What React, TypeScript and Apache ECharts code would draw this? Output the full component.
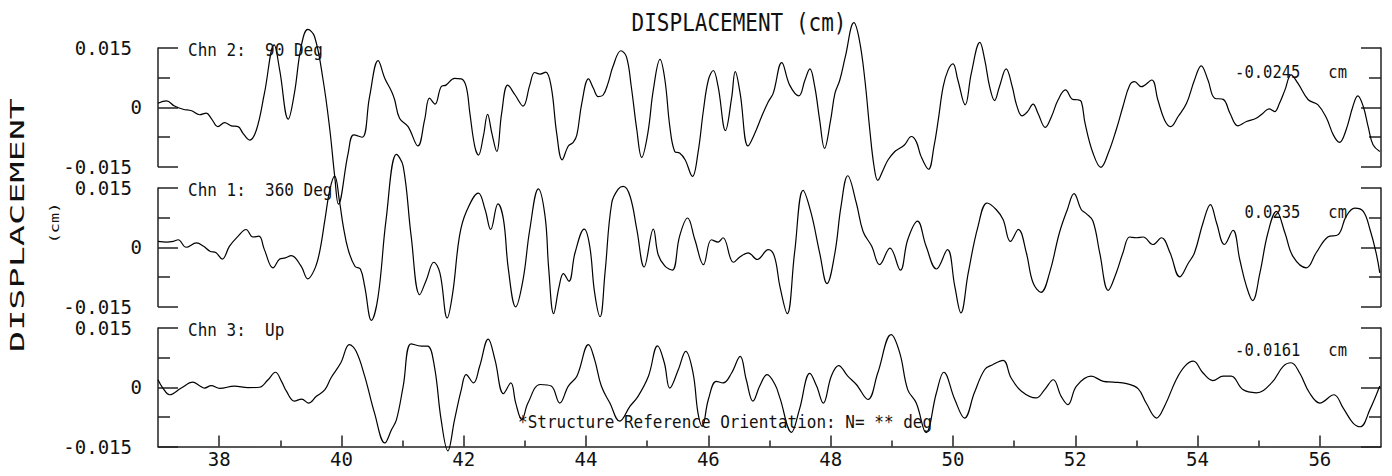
import React, { useEffect, useRef } from "react";
import * as echarts from "echarts";

const FONT = "'DejaVu Sans Mono', 'Liberation Mono', monospace";

// Chn 2: 90 Deg (top panel)
const chn2Time = [
  37.0, 37.14, 37.27, 37.41, 37.55, 37.68, 37.79, 37.87, 37.98, 38.09, 38.2, 38.31, 38.39, 38.5, 38.61,
  38.74, 38.9, 38.99, 39.13, 39.23, 39.34, 39.45, 39.56, 39.7, 39.81, 39.89, 39.95, 40.11, 40.2, 40.34,
  40.46, 40.6, 40.71, 40.82, 40.87, 40.95, 41.09, 41.25, 41.36, 41.44, 41.53, 41.63, 41.71, 41.85, 41.96,
  42.04, 42.1, 42.18, 42.24, 42.32, 42.39, 42.46, 42.54, 42.62, 42.72, 42.84, 42.97, 43.08, 43.16, 43.25,
  43.34, 43.43, 43.52, 43.61, 43.71, 43.79, 43.85, 43.93, 44.04, 44.12, 44.2, 44.28, 44.36, 44.44, 44.57,
  44.66, 44.74, 44.83, 44.91, 45.01, 45.1, 45.21, 45.29, 45.37, 45.45, 45.53, 45.62, 45.74, 45.83, 45.92,
  46.0, 46.08, 46.16, 46.28, 46.38, 46.44, 46.52, 46.65, 46.76, 46.87, 46.98, 47.06, 47.2, 47.33, 47.48,
  47.58, 47.66, 47.74, 47.82, 47.9, 48.0, 48.07, 48.15, 48.24, 48.38, 48.47, 48.56, 48.64, 48.71, 48.77,
  48.86, 48.94, 49.05, 49.13, 49.21, 49.32, 49.4, 49.48, 49.6, 49.69, 49.76, 49.84, 49.92, 50.0, 50.08,
  50.2, 50.3, 50.44, 50.52, 50.6, 50.68, 50.76, 50.87, 50.97, 51.04, 51.13, 51.22, 51.31, 51.39, 51.51,
  51.61, 51.72, 51.84, 51.96, 52.04, 52.1, 52.16, 52.29, 52.42, 52.54, 52.67, 52.78, 52.89, 52.97, 53.08,
  53.25, 53.35, 53.46, 53.56, 53.68, 53.82, 53.95, 54.06, 54.17, 54.28, 54.42, 54.53, 54.66, 54.8, 54.96,
  55.07, 55.17, 55.26, 55.34, 55.43, 55.53, 55.64, 55.81, 55.97, 56.11, 56.22, 56.32, 56.43, 56.54, 56.62,
  56.71, 56.79, 56.87, 56.98,
];
const chn2Disp = [
  0.001, 0.0016, 0.0003, -0.0005, -0.0009, -0.0019, -0.0015, -0.0028, -0.0049, -0.0039, -0.0047, -0.0049, -0.0066, -0.0083, -0.0057,
  0.0035, 0.0158, 0.0094, -0.003, 0.0035, 0.0153, 0.0197, 0.0179, 0.0069, -0.0057, -0.0175, -0.0245, -0.0116, -0.007, -0.0076,
  0.0027, 0.0118, 0.0073, 0.004, 0.0019, -0.0028, -0.0049, -0.0098, -0.0032, 0.0023, 0.0008, 0.0052, 0.0056, 0.0073, 0.0072,
  0.0052, -0.0015, -0.0099, -0.0121, -0.0074, -0.0018, -0.0066, -0.0112, -0.0015, 0.0056, 0.0031, 0.0003, 0.0056, 0.0088, 0.0084,
  0.0089, 0.0052, -0.0066, -0.0133, -0.0098, -0.0089, -0.007, 0.001, 0.0072, 0.0048, 0.0027, 0.0031, 0.0061, 0.0103, 0.0143,
  0.0128, 0.0052, -0.0057, -0.0127, -0.0066, 0.0044, 0.0121, 0.0069, -0.0049, -0.0112, -0.0116, -0.0133, -0.0175, -0.0116, -0.0007,
  0.0069, 0.0093, 0.0052, -0.0059, 0.0023, 0.009, 0.0035, -0.0098, -0.0066, -0.0024, 0.0014, 0.0035, 0.0113, 0.0056, 0.0029,
  0.0069, 0.0097, 0.0052, -0.0032, -0.0104, -0.0032, 0.0035, 0.0069, 0.0128, 0.0214, 0.017, 0.0069, -0.0057, -0.015, -0.0185,
  -0.0158, -0.0133, -0.0112, -0.0104, -0.0095, -0.0074, -0.0087, -0.0125, -0.0157, -0.0099, -0.0032, 0.0052, 0.0094, 0.011, 0.0069,
  0.0006, 0.0086, 0.0164, 0.012, 0.0052, 0.0017, 0.0052, 0.0097, 0.0052, 0.0006, -0.0022, -0.0011, 0.0008, -0.0015, -0.0051,
  -0.0024, 0.0019, 0.0044, 0.002, 0.0019, 0.0014, -0.004, -0.0116, -0.0152, -0.0116, -0.0057, 0.0002, 0.0056, 0.0065, 0.0052,
  0.0069, 0.0019, -0.0032, -0.0049, -0.0024, 0.001, 0.0069, 0.0105, 0.0069, 0.0023, 0.002, -0.0015, -0.0047, -0.0036, -0.0028,
  -0.0015, -0.0004, -0.0011, 0.001, 0.0044, 0.0082, 0.0061, 0.0019, 0.0006, -0.0028, -0.007, -0.0089, -0.0057, 0.0002, 0.0029,
  0.0002, -0.0049, -0.0095, -0.0112,
];

// Chn 1: 360 Deg (middle panel)
const chn1Time = [
  37.0, 37.14, 37.25, 37.33, 37.46, 37.63, 37.74, 37.85, 37.95, 38.05, 38.17, 38.31, 38.44, 38.55, 38.65,
  38.74, 38.88, 38.99, 39.08, 39.18, 39.34, 39.45, 39.56, 39.64, 39.73, 39.81, 39.89, 39.97, 40.03, 40.11,
  40.22, 40.31, 40.38, 40.49, 40.6, 40.73, 40.9, 41.01, 41.14, 41.28, 41.39, 41.51, 41.61, 41.73, 41.82,
  41.93, 42.04, 42.24, 42.35, 42.44, 42.56, 42.65, 42.73, 42.85, 42.97, 43.08, 43.22, 43.33, 43.39, 43.47,
  43.56, 43.63, 43.72, 43.82, 43.97, 44.06, 44.14, 44.23, 44.31, 44.42, 44.53, 44.61, 44.72, 44.83, 44.95,
  45.1, 45.18, 45.29, 45.41, 45.53, 45.66, 45.78, 45.92, 46.05, 46.16, 46.24, 46.41, 46.52, 46.65, 46.8,
  46.98, 47.08, 47.17, 47.29, 47.41, 47.55, 47.68, 47.82, 47.94, 48.07, 48.17, 48.28, 48.42, 48.53, 48.67,
  48.8, 48.97, 49.14, 49.26, 49.42, 49.56, 49.73, 49.91, 50.03, 50.13, 50.25, 50.41, 50.56, 50.71, 50.82,
  50.94, 51.07, 51.2, 51.31, 51.44, 51.58, 51.74, 51.87, 51.98, 52.1, 52.18, 52.29, 52.4, 52.54, 52.67,
  52.78, 52.89, 53.0, 53.11, 53.27, 53.41, 53.55, 53.71, 53.85, 53.95, 54.09, 54.21, 54.31, 54.44, 54.58,
  54.69, 54.8, 54.9, 55.02, 55.15, 55.29, 55.43, 55.56, 55.78, 55.94, 56.13, 56.3, 56.43, 56.57, 56.71,
  56.82, 56.92, 56.98,
];
const chn1Disp = [
  0.0015, 0.0013, 0.0015, 0.0019, 0.0, 0.0011, 0.0003, -0.001, -0.0014, -0.003, 0.0003, 0.0028, 0.0045, 0.0026, 0.0028,
  -0.0006, -0.0052, -0.003, -0.0027, -0.0021, -0.0048, -0.008, -0.0056, -0.0014, 0.007, 0.0146, 0.018, 0.0114, 0.0053, -0.0006,
  -0.0048, -0.0055, -0.0099, -0.0185, -0.0124, 0.007, 0.0235, 0.0205, 0.0028, -0.012, -0.0082, -0.0038, -0.0065, -0.0179, -0.0115,
  0.0028, 0.0089, 0.0137, 0.0095, 0.0045, 0.011, 0.007, -0.0056, -0.0151, -0.0082, 0.0045, 0.0148, 0.0078, -0.0056, -0.0168,
  -0.0099, -0.0067, -0.0086, -0.0014, 0.0046, 0.0003, -0.0115, -0.0176, -0.0065, 0.0112, 0.0148, 0.0154, 0.0129, 0.0045, -0.005,
  0.0046, -0.0019, -0.0048, -0.0058, 0.0028, 0.0074, 0.0019, -0.0044, 0.0019, 0.0013, 0.0024, -0.0038, -0.0024, -0.0014, -0.0031,
  -0.0006, -0.0023, -0.0099, -0.0168, -0.0014, 0.0144, 0.0087, -0.0014, -0.0092, -0.0014, 0.0104, 0.0181, 0.0112, 0.004, 0.0003,
  -0.0044, -0.0002, -0.0058, 0.0019, 0.0066, 0.0003, -0.0055, -0.0006, -0.0099, -0.0166, -0.0065, 0.0053, 0.0112, 0.0095, 0.007,
  0.0015, 0.0045, -0.0014, -0.009, -0.0114, -0.0065, 0.0036, 0.0095, 0.0136, 0.0095, 0.0085, 0.0066, -0.0014, -0.0109, -0.0065,
  -0.0014, 0.0026, 0.0024, 0.0026, 0.0007, 0.0024, -0.0014, -0.0075, -0.004, -0.0014, 0.0062, 0.0108, 0.0062, 0.0007, 0.0043,
  -0.0031, -0.0099, -0.0135, -0.0065, 0.0036, 0.0091, 0.0036, -0.0023, -0.0052, -0.0014, 0.0026, 0.0032, 0.0078, 0.0099, 0.0091,
  0.0045, -0.0014, -0.0065,
];

// Chn 3: Up (bottom panel)
const chn3Time = [
  37.0, 37.08, 37.19, 37.38, 37.57, 37.68, 37.76, 37.87, 38.01, 38.25, 38.47, 38.66, 38.8, 38.92, 39.02,
  39.1, 39.23, 39.35, 39.46, 39.59, 39.73, 39.83, 39.99, 40.13, 40.24, 40.38, 40.54, 40.71, 40.82, 40.9,
  41.01, 41.14, 41.31, 41.41, 41.52, 41.63, 41.74, 41.85, 41.96, 42.04, 42.16, 42.26, 42.4, 42.51, 42.65,
  42.77, 42.85, 42.95, 43.05, 43.25, 43.43, 43.57, 43.71, 43.85, 44.04, 44.14, 44.25, 44.39, 44.55, 44.72,
  44.85, 45.02, 45.17, 45.28, 45.37, 45.51, 45.63, 45.75, 45.83, 45.9, 46.0, 46.13, 46.24, 46.38, 46.52,
  46.62, 46.73, 46.84, 46.96, 47.09, 47.17, 47.36, 47.49, 47.66, 47.77, 47.88, 48.01, 48.13, 48.28, 48.42,
  48.61, 48.77, 48.99, 49.13, 49.26, 49.4, 49.56, 49.73, 49.85, 50.03, 50.19, 50.35, 50.52, 50.65, 50.82,
  50.95, 51.12, 51.36, 51.5, 51.64, 51.77, 51.88, 52.02, 52.26, 52.46, 52.62, 52.84, 53.03, 53.16, 53.33,
  53.46, 53.65, 53.79, 53.93, 54.09, 54.25, 54.42, 54.55, 54.74, 54.96, 55.21, 55.4, 55.53, 55.67, 55.83,
  56.0, 56.23, 56.38, 56.54, 56.66, 56.82, 56.98,
];
const chn3Disp = [
  0.0019, -0.0002, -0.0019, -0.0002, 0.0013, 0.0004, -0.0002, 0.0004, -0.0003, 0.0003, -0.0001, 0.0, 0.0019, 0.0038, 0.0015,
  -0.001, -0.0035, -0.003, -0.004, -0.0023, -0.0006, 0.0024, 0.0062, 0.0108, 0.0091, 0.0028, -0.0065, -0.0141, -0.0107, -0.0082,
  0.0003, 0.011, 0.0104, 0.0104, 0.0053, -0.0082, -0.0161, -0.0082, -0.0006, 0.0032, 0.0011, 0.0053, 0.0122, 0.007, -0.0016,
  0.0011, -0.004, -0.0082, -0.004, 0.0007, 0.0003, -0.004, 0.0003, 0.0028, 0.0108, 0.007, 0.0003, -0.004, -0.0086, -0.0048,
  -0.0023, 0.0028, 0.0105, 0.0062, -0.0002, 0.0045, 0.0091, 0.0036, -0.0065, -0.0099, -0.0031, 0.0015, 0.0011, 0.0036, 0.0078,
  0.0019, -0.0035, 0.0003, 0.0032, 0.0007, -0.0027, -0.0114, -0.0056, 0.0035, 0.0003, -0.004, 0.0028, 0.0055, 0.0028, 0.0007,
  -0.0031, 0.0036, 0.0133, 0.0087, -0.0006, -0.004, -0.0115, -0.0014, 0.0038, -0.0031, -0.0078, -0.0014, 0.0045, 0.0057, 0.0068,
  0.0024, -0.001, -0.0027, -0.0006, 0.0019, -0.0023, -0.0044, 0.0003, 0.0028, 0.0015, 0.0013, 0.0009, -0.0004, -0.004, -0.0078,
  -0.0048, 0.0019, 0.0053, 0.0066, 0.0036, 0.0017, 0.0028, 0.0028, -0.0006, -0.0014, 0.0011, 0.0053, 0.0062, 0.0036, -0.0014,
  -0.004, -0.0019, -0.0052, -0.009, -0.01, -0.0056, 0.0003,
];

const channelLabels = ["Chn 2:  90 Deg", "Chn 1:  360 Deg", "Chn 3:  Up"];
const peakLabels = ["-0.0245   cm", "0.0235   cm", "-0.0161   cm"];
const xMajorTicks = [38, 40, 42, 44, 46, 48, 50, 52, 54, 56];
const xMinorTicks = [39, 41, 43, 45, 47, 49, 51, 53, 55];
const titleText = "DISPLACEMENT (cm)";
const yTitleText = "DISPLACEMENT";
const yUnitText = "(cm)";
const footerText = "*Structure Reference Orientation: N= ** deg";

const pairs = (t: number[], v: number[]) => t.map((x, i) => [x, v[i]]);

export default function App() {
  const ref = useRef<HTMLDivElement>(null);
  useEffect(() => {
    document.body.style.margin = "0";
    const chart = echarts.init(ref.current!, null, { renderer: "svg" });
    const tops = [48, 188, 328];
    const H = 118.5;
    const axisColor = "#222";
    const grids = tops.map((t) => ({ left: 158, right: 11, top: t, height: H }));
    const seriesData = [pairs(chn2Time, chn2Disp), pairs(chn1Time, chn1Disp), pairs(chn3Time, chn3Disp)];

    const xAxes: any[] = [];
    const yAxes: any[] = [];
    const series: any[] = [];
    tops.forEach((_, i) => {
      const isBottom = i === 2;
      xAxes.push({
        type: "value",
        gridIndex: i,
        position: "bottom",
        min: 37,
        max: 57,
        show: isBottom,
        axisLine: { show: isBottom, onZero: false, lineStyle: { color: axisColor, width: 1.5 } },
        axisTick: { show: isBottom, inside: true, length: 11, customValues: xMajorTicks, lineStyle: { color: axisColor, width: 1.5 } },
        axisLabel: {
          show: isBottom,
          customValues: xMajorTicks,
          fontFamily: FONT,
          fontSize: 19,
          color: "#111",
          margin: 3,
        },
        splitLine: { show: false },
      });
      const yBase = (pos: string, labels: boolean) => ({
        type: "value",
        gridIndex: i,
        position: pos,
        min: -0.015,
        max: 0.015,
        interval: 0.015,
        axisLine: { show: true, onZero: false, lineStyle: { color: axisColor, width: 1.5 } },
        axisTick: { show: true, inside: true, length: 20, lineStyle: { color: axisColor, width: 1.5 } },
        minorTick: { show: true, splitNumber: 2, length: 12, lineStyle: { color: axisColor, width: 1.5 } },
        splitLine: { show: false },
        minorSplitLine: { show: false },
        axisLabel: labels
          ? {
              show: true,
              margin: 16,
              formatter: (v: number) => (Math.abs(v) < 1e-9 ? "{z|0}" : `{n|${v.toFixed(3)}}`),
              rich: {
                z: { fontFamily: FONT, fontSize: 19, color: "#111" },
                n: { fontFamily: FONT, fontSize: 19, color: "#111", padding: [0, 10, 0, 0] },
              },
            }
          : { show: false },
      });
      yAxes.push(yBase("left", true));
      yAxes.push(yBase("right", false));
      series.push({
        type: "line",
        xAxisIndex: i,
        yAxisIndex: i * 2,
        data: seriesData[i],
        showSymbol: false,
        symbol: "none",
        smooth: 0.4,
        clip: false,
        lineStyle: { color: "#000", width: 1.2 },
      });
    });
    // minor ticks on the time axis
    xAxes.push({
      type: "value",
      gridIndex: 2,
      position: "bottom",
      min: 37,
      max: 57,
      axisLine: { show: false, onZero: false },
      axisTick: { show: true, inside: true, length: 6, customValues: xMinorTicks, lineStyle: { color: axisColor, width: 1.5 } },
      axisLabel: { show: false },
      splitLine: { show: false },
    });

    const txt = (text: string, x: number, y: number, size: number, extra: any = {}, style: any = {}) => ({
      type: "text",
      x,
      y,
      z: 100,
      ...extra,
      style: {
        text,
        fontFamily: FONT,
        fontSize: size,
        fill: "#111",
        align: "left",
        verticalAlign: "middle",
        ...style,
      },
    });

    const graphic: any[] = [
      txt(titleText, 739, 22, 21, { scaleY: 1.2 }, { align: "center" }),
      txt(yTitleText, 18, 225, 19, { rotation: Math.PI / 2, scaleX: 1.85 }, { align: "center" }),
      txt(yUnitText, 55, 223, 13, { rotation: Math.PI / 2, scaleX: 1.3 }, { align: "center" }),
      txt(footerText, 518, 422, 16, { scaleY: 1.15 }),
    ];
    const labelYs = [50, 190, 330];
    const peakYs = [72, 212, 350];
    channelLabels.forEach((c, i) => graphic.push(txt(c, 188, labelYs[i], 16, { scaleY: 1.15 })));
    peakLabels.forEach((p, i) => graphic.push(txt(p, 1347, peakYs[i], 15.5, { scaleY: 1.15 }, { align: "right" })));

    chart.setOption({
      animation: false,
      backgroundColor: "#fff",
      grid: grids,
      xAxis: xAxes,
      yAxis: yAxes,
      series,
      graphic,
    });
    return () => chart.dispose();
  }, []);
  return (
    <div
      ref={ref}
      style={{ position: "fixed", left: 0, top: 0, width: 1392, height: 476, background: "#fff" }}
    />
  );
}
